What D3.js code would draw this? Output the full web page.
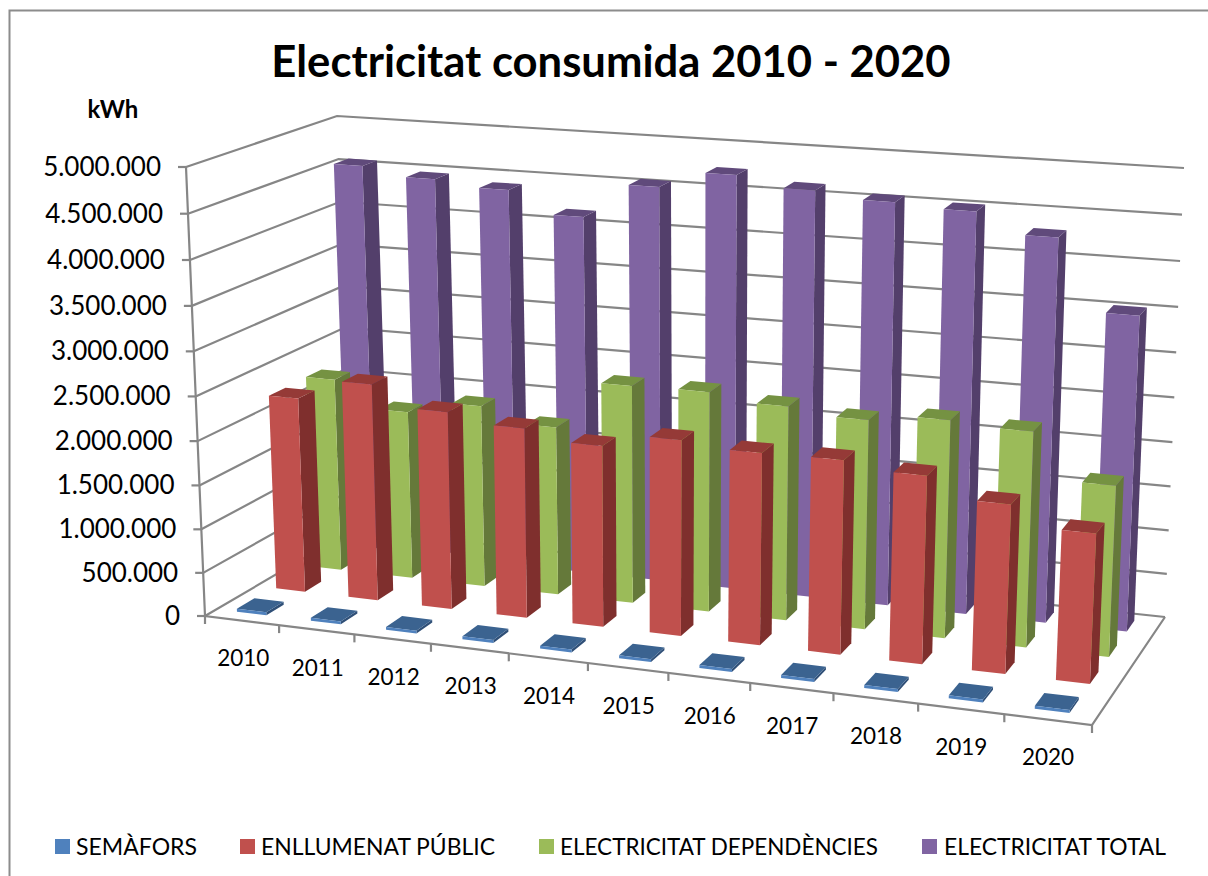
<!DOCTYPE html>
<html><head><meta charset="utf-8">
<script src="https://cdnjs.cloudflare.com/ajax/libs/d3/7.8.5/d3.min.js"></script>
<style>html,body{margin:0;padding:0;background:#fff}svg{display:block}text{font-family:Lato,"Open Sans",sans-serif;fill:#000}</style>
</head><body><svg id="c" width="1208" height="876"></svg>
<script>
const categories=["2010","2011","2012","2013","2014","2015","2016","2017","2018","2019","2020"];
const semafors=[35000,33000,33000,33000,33000,33000,33000,33000,33000,33000,33000];
const enllumenat=[2254000,2495000,2264000,2165000,2053000,2205000,2150000,2160000,2080000,1860000,1640000];
const dependencies=[2264000,1962000,2113000,1952000,2505000,2515000,2435000,2365000,2445000,2405000,1900000];
const total=[4560000,4465000,4400000,4155000,4550000,4740000,4630000,4560000,4520000,4300000,3525000];
const seriesNames=["SEMÀFORS","ENLLUMENAT PÚBLIC","ELECTRICITAT DEPENDÈNCIES","ELECTRICITAT TOTAL"];
const seriesValues=[semafors,enllumenat,dependencies,total];
const yTicks=[0,500000,1000000,1500000,2000000,2500000,3000000,3500000,4000000,4500000,5000000];
const tickLabels=["0","500.000","1.000.000","1.500.000","2.000.000","2.500.000","3.000.000","3.500.000","4.000.000","4.500.000","5.000.000"];
const palette=[
 {front:"#4F81BD",side:"#2F4F77",top:"#3B6390"},
 {front:"#C0504D",side:"#7F2F2D",top:"#953A37"},
 {front:"#9BBB59",side:"#65793A",top:"#759242"},
 {front:"#8064A2",side:"#533F6B",top:"#604A7B"}];

const svg=d3.select("#c");
const C={fbl:[205,616],fbr:[1092,725],bbl:[352,530],bbr:[1165,617],ftl:[186,167],ftr:[1114,238],btl:[337,116],btr:[1184,168]};
const warp=k=>t=>t/(t+k*(1-t));
const wu=warp(1.097), wv=warp(0.877), ww=warp(1.045);
const xBand=d3.scaleBand().domain(categories).range([-0.002,0.998]).paddingInner(0.6).paddingOuter(0.3);
const xCell=d3.scalePoint().domain(d3.range(categories.length+1)).range([0,1]);
const zBand=d3.scaleBand().domain(d3.range(4)).range([0,1]).paddingInner(0.56).paddingOuter(0.28);
const yScale=d3.scaleLinear().domain([0,5000000]).range([0,1]);
const lerp=(a,b,t)=>[a[0]+(b[0]-a[0])*t,a[1]+(b[1]-a[1])*t];
function P(u,v,w){
  const U=wu(u),V=wv(v),W=ww(w);
  const bl=lerp(lerp(C.fbl,C.fbr,U),lerp(C.bbl,C.bbr,U),V);
  const tl=lerp(lerp(C.ftl,C.ftr,U),lerp(C.btl,C.btr,U),V);
  return lerp(bl,tl,W);
}
const line=d3.line();
const stroke="#868686";
svg.append("path").attr("d","M9.5,876V10.5H1208").attr("fill","none").attr("stroke","#8c8c8c").attr("stroke-width",2);
const grid=svg.append("g").attr("fill","none").attr("stroke",stroke).attr("stroke-width",2.2);
yTicks.forEach(t=>{const w=yScale(t);
  grid.append("path").attr("d",line([P(0,0,w),P(0,1,w),P(1,1,w)]));
  const a=P(0,0,w);
  grid.append("path").attr("d",line([[a[0]-8,a[1]],a]));
});
grid.append("path").attr("d",line([P(0,0,1),P(0,0,0),P(1,0,0),P(1,1,0)]));
d3.range(categories.length+1).forEach(i=>{const a=P(xCell(i),0,0);
  grid.append("path").attr("d",line([a,[a[0],a[1]+8]]));});
const bars=svg.append("g");
[3,2,1,0].forEach(s=>{
  const vals=seriesValues[s],col=palette[s];
  const v0=zBand(s),v1=v0+zBand.bandwidth();
  categories.forEach((c,i)=>{
    const u0=xBand(c),u1=u0+xBand.bandwidth(),w=yScale(vals[i]);
    const g=bars.append("g");
    g.append("path").attr("fill",col.side).attr("d",line([P(u1,v0,0),P(u1,v1,0),P(u1,v1,w),P(u1,v0,w)])+"Z");
    g.append("path").attr("fill",col.top).attr("d",line([P(u0,v0,w),P(u1,v0,w),P(u1,v1,w),P(u0,v1,w)])+"Z");
    g.append("path").attr("fill",col.front).attr("d",line([P(u0,v0,0),P(u1,v0,0),P(u1,v0,w),P(u0,v0,w)])+"Z");
  });
});
svg.append("text").attr("x",611).attr("y",77).attr("text-anchor","middle").attr("font-size",43.6).attr("font-weight",700).text("Electricitat consumida 2010 - 2020");
svg.append("text").attr("x",113).attr("y",118).attr("text-anchor","middle").attr("font-size",24).attr("font-weight",700).text("kWh");
yTicks.forEach((t,i)=>{const a=P(0,0,yScale(t));
  svg.append("text").attr("x",a[0]-25).attr("y",a[1]+9).attr("text-anchor","end").attr("font-size",26).text(tickLabels[i]);});
categories.forEach((c,i)=>{const uc=xBand(c)+xBand.bandwidth()/2,a=P(uc,0,0);
  svg.append("text").attr("x",a[0]+3-uc).attr("y",a[1]+46).attr("text-anchor","middle").attr("font-size",22.5).text(c);});
const legX=[55,240,539,922],legT=[76,261,560,944],legW=[121,234,318,222];
seriesNames.forEach((n,i)=>{
  svg.append("rect").attr("x",legX[i]).attr("y",839).attr("width",15).attr("height",15).attr("fill",palette[i].front);
  svg.append("text").attr("x",legT[i]).attr("y",854.5).attr("font-size",23).attr("textLength",legW[i]).attr("lengthAdjust","spacingAndGlyphs").text(n);
});
</script></body></html>
